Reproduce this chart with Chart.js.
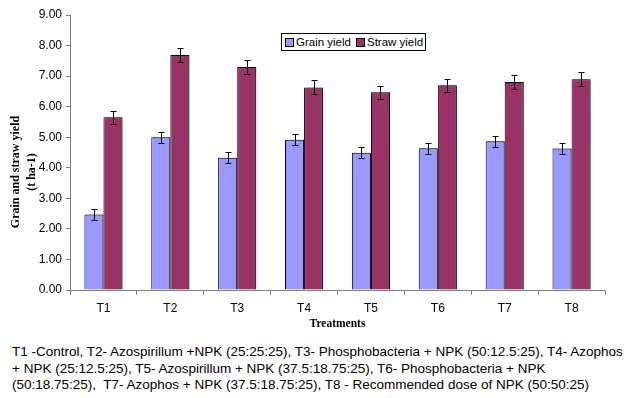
<!DOCTYPE html>
<html>
<head>
<meta charset="utf-8">
<script src="https://cdn.jsdelivr.net/npm/chart.js@4/dist/chart.umd.min.js"></script>
<style>
  body { margin: 0; background: #fff; }
  #wrap { position: relative; width: 631px; height: 398px; }
  #legend {
    position: absolute; left: 281px; top: 33px; width: 140px; height: 16px;
    border: 1px solid #000; background: #fff;
    font: 11.5px "Liberation Sans", Arial, sans-serif; color: #000;
    display: flex; align-items: center; padding-left: 3px; box-sizing: content-box;
    white-space: nowrap;
  }
  #legend span.box { display: inline-block; flex-shrink: 0; width: 7px; height: 7px; border: 1px solid #000; margin-right: 2px; }
  #legend .item { display: flex; flex-shrink: 0; align-items: center; margin-right: 5px; }
  #caption {
    position: absolute; left: 12px; top: 344px; width: 625px;
    font: 13.5px "Liberation Sans", Arial, sans-serif; line-height: 16.5px; color: #000;
    white-space: pre;
  }
</style>
</head>
<body>
<div id="wrap">
  <canvas id="myChart" width="631" height="335"></canvas>
  <div id="legend"></div>
  <div id="caption">T1 -Control, T2- Azospirillum +NPK (25:25:25), T3- Phosphobacteria + NPK (50:12.5:25), T4- Azophos
+ NPK (25:12.5:25), T5- Azospirillum + NPK (37.5:18.75:25), T6- Phosphobacteria + NPK
(50:18.75:25),  T7- Azophos + NPK (37.5:18.75:25), T8 - Recommended dose of NPK (50:50:25)</div>
</div>
<script>
const treatments = ['T1', 'T2', 'T3', 'T4', 'T5', 'T6', 'T7', 'T8'];
const grainYield = [2.47, 5.00, 4.33, 4.92, 4.49, 4.64, 4.87, 4.63];
const strawYield = [5.65, 7.69, 7.30, 6.63, 6.47, 6.70, 6.81, 6.90];
const grainErr = [0.18, 0.18, 0.18, 0.18, 0.18, 0.18, 0.18, 0.18];
const strawErr = [0.22, 0.23, 0.22, 0.23, 0.22, 0.22, 0.22, 0.23];
const yTicks = [0, 1, 2, 3, 4, 5, 6, 7, 8, 9];

const grainColor = '#9999ff';
const strawColor = '#993366';

// legend in html, boxed like the original
const legendEl = document.getElementById('legend');
[['Grain yield', grainColor], ['Straw yield', strawColor]].forEach(([name, col]) => {
  const item = document.createElement('div');
  item.className = 'item';
  item.innerHTML = `<span class="box" style="background:${col}"></span>${name}`;
  legendEl.appendChild(item);
});

// error bars from the same scales as the bars
const errorBars = {
  id: 'errorBars',
  afterDatasetsDraw(chart) {
    const ctx = chart.ctx;
    const y = chart.scales.y;
    const errs = [grainErr, strawErr];
    ctx.save();
    ctx.strokeStyle = '#000';
    ctx.lineWidth = 1;
    chart.data.datasets.forEach((ds, i) => {
      chart.getDatasetMeta(i).data.forEach((bar, j) => {
        const x = Math.round(bar.x) + 0.5;
        const top = Math.round(y.getPixelForValue(ds.data[j] + errs[i][j])) + 0.5;
        const bot = Math.round(y.getPixelForValue(ds.data[j] - errs[i][j])) + 0.5;
        ctx.beginPath();
        ctx.moveTo(x, top); ctx.lineTo(x, bot);
        ctx.moveTo(x - 3, top); ctx.lineTo(x + 3, top);
        ctx.moveTo(x - 3, bot); ctx.lineTo(x + 3, bot);
        ctx.stroke();
      });
    });
    ctx.restore();
  }
};

// light shadow under the bars
const barShadow = {
  id: 'barShadow',
  beforeDatasetsDraw(chart) {
    const ctx = chart.ctx;
    ctx.save();
    ctx.shadowColor = 'rgba(0,0,0,0.3)';
    ctx.shadowOffsetX = 2;
    ctx.shadowOffsetY = 0;
    ctx.shadowBlur = 0;
  },
  afterDatasetsDraw(chart) {
    chart.ctx.restore();
  }
};

// y axis title, two lines of bold serif text
const yTitle = {
  id: 'yTitle',
  afterDraw(chart) {
    const ctx = chart.ctx;
    ctx.save();
    ctx.translate(0, 172);
    ctx.rotate(-Math.PI / 2);
    ctx.fillStyle = '#000';
    ctx.font = 'bold 12px "Liberation Serif", "Times New Roman", serif';
    ctx.textAlign = 'center';
    ctx.textBaseline = 'middle';
    ctx.fillText('Grain and straw yield', 0, 16);
    ctx.fillText('(t ha-1)', 0, 32);
    ctx.restore();
  }
};

const ctx = document.getElementById('myChart').getContext('2d');

const myChart = new Chart(ctx, {
  type: 'bar',
  data: {
    labels: treatments,
    datasets: [
      {
        label: 'Grain yield',
        data: grainYield,
        backgroundColor: grainColor,
        borderColor: '#000',
        borderWidth: 1,
        categoryPercentage: 0.57,
        barPercentage: 1
      },
      {
        label: 'Straw yield',
        data: strawYield,
        backgroundColor: strawColor,
        borderColor: '#000',
        borderWidth: 1,
        categoryPercentage: 0.57,
        barPercentage: 1
      }
    ]
  },
  options: {
    responsive: false,
    animation: false,
    layout: { padding: { left: 0, right: 26, top: 15, bottom: 0 } },
    plugins: {
      legend: { display: false },
      tooltip: { enabled: false }
    },
    scales: {
      x: {
        offset: true,
        grid: { drawOnChartArea: false, tickLength: 5, color: '#808080', offset: true },
        border: { color: '#808080' },
        ticks: { color: '#000', font: { family: '"Liberation Sans", Arial', size: 12 }, padding: 6 },
        title: {
          display: true,
          text: 'Treatments',
          color: '#000',
          font: { family: '"Liberation Serif", "Times New Roman"', size: 11.5, weight: 'bold' },
          padding: { top: 2, bottom: 4 }
        },
        afterFit: s => { s.height = 45; }
      },
      y: {
        min: 0,
        max: 9,
        afterBuildTicks: s => { s.ticks = yTicks.map(v => ({ value: v })); },
        grid: { drawOnChartArea: false, tickLength: 4, color: '#808080' },
        border: { color: '#808080' },
        ticks: {
          color: '#000',
          font: { family: '"Liberation Sans", Arial', size: 12 },
          padding: 4,
          callback: v => v.toFixed(2)
        },
        afterFit: s => { s.width = 70; }
      }
    }
  },
  plugins: [barShadow, errorBars, yTitle]
});
</script>
</body>
</html>
